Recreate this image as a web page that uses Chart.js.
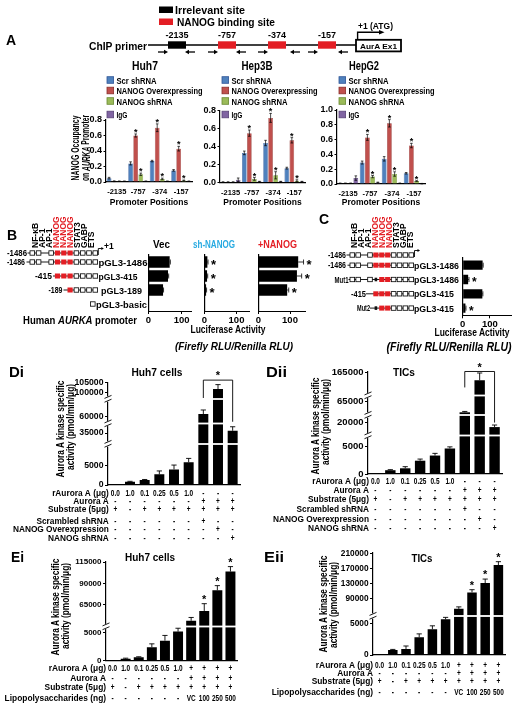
<!DOCTYPE html>
<html>
<head>
<meta charset="utf-8">
<title>NANOG / AURKA figure</title>
<script src="https://cdn.jsdelivr.net/npm/chart.js"></script>
<style>
  body { margin: 0; background: #fff; }
  #page { position: relative; width: 515px; height: 708px; overflow: hidden; background: #fff; }
  #page canvas { position: absolute; }
  #overlay { position: absolute; left: 0; top: 0; pointer-events: none; }
</style>
</head>
<body>
<div id="page"></div>
<script>
const F = "'Liberation Sans', Arial, Helvetica, sans-serif";
const RED = '#e31e24';
const CYAN = '#27aae1';

// ---------- A: ChIP occupancy ----------
const promoterPos = ['-2135', '-757', '-374', '-157'];
const occSeries = ['Scr shRNA', 'NANOG Overexpressing', 'NANOG shRNA', 'IgG'];
const occColors = ['#4f81bd', '#c0504d', '#9bbb59', '#8064a2'];
const occBorders = ['#2f5597', '#8b2f2c', '#6a8a33', '#5a4578'];
// rows: Scr shRNA, NANOG Overexpressing, NANOG shRNA, IgG
const huh7Occ  = [[0.05, 0.24, 0.27, 0.15], [0.01, 0.60, 0.70, 0.43], [0.01, 0.10, 0.04, 0.02], [0.01, 0.01, 0.01, 0.01]];
const huh7Err  = [[0.01, 0.02, 0.01, 0.01], [0.005, 0.02, 0.05, 0.03], [0.003, 0.015, 0.01, 0.005], [0.003, 0.003, 0.003, 0.003]];
const hep3bOcc = [[0.005, 0.33, 0.44, 0.16], [0.005, 0.55, 0.72, 0.47], [0.005, 0.04, 0.08, 0.02], [0.03, 0.01, 0.01, 0.01]];
const hep3bErr = [[0.002, 0.02, 0.03, 0.01], [0.002, 0.035, 0.05, 0.03], [0.002, 0.015, 0.04, 0.01], [0.02, 0.003, 0.003, 0.003]];
const hepg2Occ = [[0.01, 0.29, 0.34, 0.145], [0.01, 0.63, 0.82, 0.52], [0.01, 0.10, 0.135, 0.04], [0.08, 0.02, 0.01, 0.005]];
const hepg2Err = [[0.003, 0.02, 0.03, 0.01], [0.003, 0.04, 0.05, 0.03], [0.003, 0.015, 0.03, 0.005], [0.03, 0.005, 0.003, 0.003]];
const occStars = [[0, 0, 0, 0], [0, 1, 1, 1], [0, 1, 1, 1], [0, 0, 0, 0]];

// ---------- B / C: luciferase ----------
const constructsB = ['pGL3-1486', 'pGL3-415', 'pGL3-189', 'pGL3-basic'];
const lucVec = [64, 59, 44, 1];
const lucVecErr = [2, 2, 1.5, 0];
const lucSh = [9, 8, 5, 1];
const lucShErr = [2, 2, 1.5, 0];
const lucOver = [126, 122, 91, 1];
const lucOverErr = [17, 15, 5, 0];
const lucStars = [1, 1, 1, 0];
const constructsC = ['pGL3-1486', 'Mut1 pGL3-1486', 'pGL3-415', 'Mut2 pGL3-415'];
const lucMut = [73, 20, 72, 10];
const lucMutErr = [2, 3, 2, 2];
const mutStars = [0, 1, 0, 1];
const lucTicks = [0, 100];

// ---------- D / E: kinase activity ----------
const dRAurora   = ['0.0', '1.0', '0.1', '0.25', '0.5', '1.0', '-', '-', '-'];
const dAurora    = ['-', '-', '-', '-', '-', '-', '+', '+', '+'];
const dSubstrate = ['+', '-', '+', '+', '+', '+', '+', '+', '+'];
const dScrambled = ['-', '-', '-', '-', '-', '-', '+', '-', '-'];
const dOver      = ['-', '-', '-', '-', '-', '-', '-', '+', '-'];
const dShrna     = ['-', '-', '-', '-', '-', '-', '-', '-', '+'];
const eRAurora   = ['0.0', '1.0', '0.1', '0.25', '0.5', '1.0', '+', '+', '+', '+'];
const eAurora    = ['-', '-', '-', '-', '-', '-', '+', '+', '+', '+'];
const eSubstrate = ['+', '-', '+', '+', '+', '+', '+', '+', '+', '+'];
const eLps       = ['-', '-', '-', '-', '-', '-', 'VC', '100', '250', '500'];

const diKinase  = [0, 870, 1300, 2800, 4100, 6000, 61700, 101700, 36400];
const diErr     = [0, 100, 150, 900, 1150, 1000, 2400, 2300, 2500];
const diiKinase = [0, 700, 1050, 2450, 3400, 4700, 52000, 142000, 18500];
const diiErr    = [0, 100, 300, 300, 400, 300, 1000, 22000, 650];
const eiKinase  = [0, 350, 600, 2400, 3570, 5180, 46100, 57650, 81900, 103800];
const eiErr     = [0, 100, 100, 600, 930, 600, 3900, 8500, 5400, 5800];
const eiiKinase = [0, 800, 970, 2850, 4150, 5740, 63500, 106900, 131500, 179000];
const eiiErr    = [0, 100, 480, 550, 550, 320, 5200, 7100, 10500, 8800];
const eStars    = [0, 0, 0, 0, 0, 0, 0, 1, 1, 1];

const diTicks  = [0, 5000, 35000, 60000, 100000, 105000];
const diiTicks = [0, 5000, 20000, 65000, 165000];
const eiTicks  = [0, 5000, 65000, 90000, 115000];
const eiiTicks = [0, 5000, 90000, 130000, 170000, 210000];

// broken axis pieces: [fromValue, toValue, fromFraction, toFraction]
const SEGS = {
  di:  [[0, 10000, 0, 0.3715], [30000, 40000, 0.4301, 0.5865], [57000, 70000, 0.6158, 0.8309], [97000, 105000, 0.8504, 1]],
  dii: [[0, 7000, 0, 0.3725], [16000, 22000, 0.3824, 0.5686], [50000, 70000, 0.5882, 0.7549], [100000, 167000, 0.7843, 1]],
  ei:  [[0, 6000, 0, 0.3414], [40000, 115000, 0.3516, 1]],
  eii: [[0, 6200, 0, 0.3756], [46000, 212000, 0.3854, 1]]
};

// ---------- scale with breaks ----------
class BrokenScale extends Chart.LinearScale {
  getPixelForValue(value) {
    const segs = SEGS[this.chart.canvas.id];
    let dec = 0;
    for (const [v0, v1, f0, f1] of segs) {
      if (value <= v1) { dec = value <= v0 ? f0 : f0 + (value - v0) / (v1 - v0) * (f1 - f0); break; }
      dec = f1;
    }
    return this.getPixelForDecimal(dec);
  }
}
BrokenScale.id = 'broken';
BrokenScale.defaults = Chart.LinearScale.defaults;
Chart.register(BrokenScale);

Chart.defaults.font.family = F;
Chart.defaults.font.weight = 'bold';
Chart.defaults.color = '#000';

// ---------- annotations: error bars, stars, breaks, bracket, table ----------
const ANN = {};
const annot = {
  id: 'annot',
  afterDraw(chart) {
    const a = ANN[chart.canvas.id];
    if (!a) return;
    const ctx = chart.ctx, ca = chart.chartArea;
    const horiz = chart.options.indexAxis === 'y';
    const vs = horiz ? chart.scales.x : chart.scales.y;
    const seg = (x1, y1, x2, y2) => { ctx.beginPath(); ctx.moveTo(x1, y1); ctx.lineTo(x2, y2); ctx.stroke(); };
    const star = (x, y, align) => {
      ctx.font = `bold ${a.starSize}px ${F}`;
      ctx.textAlign = align; ctx.textBaseline = 'alphabetic'; ctx.fillStyle = '#000';
      ctx.fillText('*', x, y + a.starSize * 0.56);
    };
    ctx.save();
    if (a.breaks) {
      const segs = SEGS[chart.canvas.id];
      for (let k = 0; k < segs.length - 1; k++) {
        const y = vs.getPixelForDecimal((segs[k][3] + segs[k + 1][2]) / 2);
        ctx.fillStyle = '#fff';
        ctx.fillRect(ca.left + 1, y - 0.9, ca.width, 1.8);
        ctx.fillRect(ca.left - 3, y - 2.6, 6, 5.2);
        ctx.strokeStyle = '#000'; ctx.lineWidth = 0.9;
        seg(ca.left - 3.5, y - 0.6, ca.left + 3.5, y - 3.6);
        seg(ca.left - 3.5, y + 3.2, ca.left + 3.5, y + 0.2);
      }
    }
    ctx.strokeStyle = '#000'; ctx.lineWidth = a.errW;
    chart.data.datasets.forEach((ds, di) => {
      chart.getDatasetMeta(di).data.forEach((bar, i) => {
        const v = ds.data[i], e = ds.errors[i];
        const tip = vs.getPixelForValue(v + e);
        if (horiz) {
          if (e) { seg(bar.x, bar.y, tip, bar.y); seg(tip, bar.y - a.cap, tip, bar.y + a.cap); }
          if (ds.stars && ds.stars[i]) star(tip + a.starGap, bar.y, 'left');
        } else {
          const lo = a.sym ? vs.getPixelForValue(Math.max(v - e, 0)) : bar.y;
          if (e) {
            seg(bar.x, lo, bar.x, tip);
            seg(bar.x - a.cap, tip, bar.x + a.cap, tip);
            if (a.sym) seg(bar.x - a.cap, lo, bar.x + a.cap, lo);
          }
          if (ds.stars && ds.stars[i]) star(bar.x, tip - a.starGap, 'center');
        }
      });
    });
    if (a.bracket) {
      const b = a.bracket, ds = chart.data.datasets[0], m = chart.getDatasetMeta(0).data;
      const tipOf = i => vs.getPixelForValue(ds.data[i] + ds.errors[i]);
      let top = Infinity;
      for (let i = b.from; i <= b.to; i++) top = Math.min(top, tipOf(i));
      top -= b.gap;
      ctx.lineWidth = 0.9;
      ctx.beginPath();
      ctx.moveTo(m[b.from].x, tipOf(b.from) - b.legs[0]);
      ctx.lineTo(m[b.from].x, top);
      ctx.lineTo(m[b.to].x, top);
      ctx.lineTo(m[b.to].x, tipOf(b.to) - b.legs[1]);
      ctx.stroke();
      star((m[b.from].x + m[b.to].x) / 2, top - b.star, 'center');
    }
    if (a.table) {
      const xs = chart.scales.x, t = a.table;
      ctx.fillStyle = '#000'; ctx.textBaseline = 'middle';
      t.rows.forEach(([label, vals, dy]) => {
        const y = ca.bottom + dy;
        ctx.font = `bold ${t.size}px ${F}`;
        ctx.textAlign = 'right';
        ctx.fillText(label, xs.getPixelForValue(0) - t.gap, y);
        ctx.font = `bold ${t.valSize}px ${F}`;
        ctx.textAlign = 'center';
        vals.forEach((s, i) => {
          ctx.save();
          ctx.translate(xs.getPixelForValue(i), y);
          ctx.scale(t.squeeze, 1);
          ctx.fillText(s, 0, 0);
          ctx.restore();
        });
      });
    }
    ctx.restore();
  }
};

const page = document.getElementById('page');

// box = canvas [left, top, w, h]; area = plot [left, top, right, bottom] in page px
function makeChart(id, box, area, data, scales, extra = {}) {
  const cv = document.createElement('canvas');
  cv.id = id; cv.width = box[2]; cv.height = box[3];
  Object.assign(cv.style, { left: box[0] + 'px', top: box[1] + 'px', width: box[2] + 'px', height: box[3] + 'px' });
  page.appendChild(cv);
  scales.x.afterFit = s => { s.height = box[1] + box[3] - area[3]; };
  scales.y.afterFit = s => { s.width = area[0] - box[0]; };
  return new Chart(cv, {
    type: 'bar',
    data,
    options: {
      indexAxis: extra.indexAxis || 'x',
      responsive: false, animation: false, events: [],
      layout: { padding: { left: 0, top: area[1] - box[1], right: box[0] + box[2] - area[2], bottom: 0 } },
      plugins: { legend: { display: false }, tooltip: { enabled: false } },
      scales
    },
    plugins: [annot]
  });
}

// ----- A charts -----
function occDatasets(vals, errs) {
  return vals.map((d, k) => ({
    label: occSeries[k], data: d, errors: errs[k], stars: occStars[k],
    backgroundColor: occColors[k], borderColor: occBorders[k], borderWidth: 0.6,
    categoryPercentage: 0.95, barPercentage: 0.92
  }));
}
function occScales(max) {
  return {
    x: { type: 'category', offset: true, grid: { display: false, drawTicks: false },
         border: { display: true, color: '#000', width: 1.2 },
         ticks: { font: { size: 7.5, weight: 'bold' }, padding: 5.5, maxRotation: 0, autoSkip: false },
         title: { display: true, text: 'Promoter Positions', font: { size: 8.5, weight: 'bold' }, padding: { top: 0, bottom: 6 } } },
    y: { min: 0, max,
         grid: { display: true, drawOnChartArea: false, drawTicks: true, tickLength: 2.5, color: '#000' },
         border: { display: true, color: '#000', width: 1.2 },
         ticks: { stepSize: 0.2, font: { size: 9, weight: 'bold' }, padding: 1.5, callback: v => v.toFixed(1) } }
  };
}
const occAnn = { sym: true, cap: 1.3, errW: 0.7, starSize: 9, starGap: 4 };
ANN.huh7 = ANN.hep3b = ANN.hepg2 = occAnn;
makeChart('huh7', [86, 106, 110, 108], [106, 120, 192, 182], { labels: promoterPos, datasets: occDatasets(huh7Occ, huh7Err) }, occScales(0.8));
makeChart('hep3b', [200, 98, 112, 116], [220, 110.7, 305, 182.5], { labels: promoterPos, datasets: occDatasets(hep3bOcc, hep3bErr) }, occScales(0.8));
makeChart('hepg2', [317, 98, 115, 116], [337, 110, 425, 184], { labels: promoterPos, datasets: occDatasets(hepg2Occ, hepg2Err) }, occScales(1.0));

// ----- B / C charts -----
function lucScales(max) {
  return {
    x: { type: 'linear', min: 0, max,
         afterBuildTicks: s => { s.ticks = lucTicks.map(v => ({ value: v })); },
         grid: { display: true, drawOnChartArea: false, drawTicks: true, tickLength: 3, color: '#000' },
         border: { display: true, color: '#000', width: 1 },
         ticks: { font: { size: 9.5, weight: 'bold' }, padding: 0.5, maxRotation: 0 } },
    y: { type: 'category', grid: { display: false, drawTicks: false }, border: { display: true, color: '#000', width: 1.2 }, ticks: { display: false } }
  };
}
function lucData(labels, vals, errs, stars, pct) {
  return { labels, datasets: [{ data: vals, errors: errs, stars, backgroundColor: '#000', categoryPercentage: 1, barPercentage: pct }] };
}
ANN.vec = ANN.sh = ANN.over = { cap: 2.5, errW: 0.8, starSize: 13, starGap: 3 };
ANN.mut = { cap: 2.5, errW: 0.8, starSize: 12, starGap: 3 };
makeChart('vec', [138, 245, 58, 85], [148.5, 255, 191.5, 311], lucData(constructsB, lucVec, lucVecErr, null, 0.82), lucScales(130), { indexAxis: 'y' });
makeChart('sh', [194, 245, 72, 85], [204.5, 255, 249.3, 311], lucData(constructsB, lucSh, lucShErr, lucStars, 0.82), lucScales(140), { indexAxis: 'y' });
makeChart('over', [248, 245, 70, 85], [258.5, 255, 305.75, 311], lucData(constructsB, lucOver, lucOverErr, lucStars, 0.82), lucScales(150), { indexAxis: 'y' });
makeChart('mut', [452, 245, 63, 85], [462.7, 258, 511.8, 315.3], lucData(constructsC, lucMut, lucMutErr, mutStars, 0.65), lucScales(180), { indexAxis: 'y' });

// ----- D / E charts -----
function kinScales(ticks, max, size) {
  return {
    x: { type: 'category', grid: { display: false, drawTicks: false }, border: { display: true, color: '#000', width: 1.2 }, ticks: { display: false } },
    y: { type: 'broken', min: 0, max,
         afterBuildTicks: s => { s.ticks = ticks.map(v => ({ value: v })); },
         grid: { display: true, drawOnChartArea: false, drawTicks: true, tickLength: 3, color: '#000' },
         border: { display: true, color: '#000', width: 1.2 },
         ticks: { autoSkip: false, font: { size, weight: 'bold' }, padding: 1.5, callback: v => String(v) } }
  };
}
function kinData(labels, vals, errs, stars, pct) {
  return { labels, datasets: [{ data: vals, errors: errs, stars, backgroundColor: '#000', categoryPercentage: 1, barPercentage: pct }] };
}
const kinBase = { breaks: true, cap: 2.6, errW: 0.9, starSize: 11, starGap: 7 };
ANN.di = Object.assign({}, kinBase, {
  bracket: { from: 6, to: 8, gap: 4.5, legs: [12, 5], star: 7 },
  table: { size: 8.3, valSize: 9, gap: 6.5, squeeze: 0.72, rows: [['rAurora A (μg)', dRAurora, 8.3], ['Aurora A', dAurora, 16.7], ['Substrate (5μg)', dSubstrate, 25],
    ['Scrambled shRNA', dScrambled, 36.7], ['NANOG Overexpression', dOver, 44.3], ['NANOG shRNA', dShrna, 53.3]] }
});
ANN.dii = Object.assign({}, kinBase, {
  bracket: { from: 6, to: 8, gap: 1.5, legs: [24, 2.5], star: 7 },
  table: { size: 8.3, valSize: 9, gap: 6.5, squeeze: 0.72, rows: [['rAurora A (μg)', dRAurora, 7.7], ['Aurora A', dAurora, 16.7], ['Substrate (5μg)', dSubstrate, 26],
    ['Scrambled shRNA', dScrambled, 36], ['NANOG Overexpression', dOver, 45.3], ['NANOG shRNA', dShrna, 54.3]] }
});
ANN.ei = Object.assign({}, kinBase, {
  table: { size: 8.4, valSize: 9, gap: 6.5, squeeze: 0.72, rows: [['rAurora A (μg)', eRAurora, 7.6], ['Aurora A', eAurora, 17.6], ['Substrate (5μg)', eSubstrate, 27],
    ['Lipopolysaccharides (ng)', eLps, 37.6]] }
});
ANN.eii = Object.assign({}, kinBase, {
  table: { size: 8.4, valSize: 9, gap: 6.5, squeeze: 0.72, rows: [['rAurora A (μg)', eRAurora, 11], ['Aurora A', eAurora, 19], ['Substrate (5μg)', eSubstrate, 26.7],
    ['Lipopolysaccharides (ng)', eLps, 37.7]] }
});
makeChart('di', [0, 365, 245, 185], [108, 382.7, 240, 485], kinData(dRAurora, diKinase, diErr, null, 0.68), kinScales(diTicks, 105000, 8.7));
makeChart('dii', [258, 358, 257, 182], [368, 372, 502, 474], kinData(dRAurora, diiKinase, diiErr, null, 0.7), kinScales(diiTicks, 167000, 9.5));
makeChart('ei', [0, 550, 245, 158], [106, 562, 237, 660.7], kinData(eRAurora, eiKinase, eiErr, eStars, 0.76), kinScales(eiTicks, 115000, 8));
makeChart('eii', [262, 540, 253, 168], [373, 552.5, 505, 655], kinData(eRAurora, eiiKinase, eiiErr, eStars, 0.72), kinScales(eiiTicks, 212000, 8.3));

// ---------- drawn text and promoter diagrams ----------
const parts = [];
function T(x, y, s, size, anchor = 'start', o = {}) {
  let at = `font-size="${size}" text-anchor="${anchor}" dominant-baseline="central"`;
  if (o.w) at += ` textLength="${o.w}" lengthAdjust="spacingAndGlyphs"`;
  if (o.fill) at += ` fill="${o.fill}"`;
  if (o.italic) at += ` font-style="italic"`;
  const pos = o.rot ? `x="0" y="0" transform="translate(${x},${y}) rotate(-90)"` : `x="${x}" y="${y}"`;
  parts.push(`<text ${pos} ${at}>${s}</text>`);
}
const R = (x, y, w, h, fill, stroke, sw) =>
  parts.push(`<rect x="${x}" y="${y}" width="${w}" height="${h}" fill="${fill}"${stroke ? ` stroke="${stroke}" stroke-width="${sw}"` : ''}/>`);
const L = (x1, y1, x2, y2, sw = 1) =>
  parts.push(`<line x1="${x1}" y1="${y1}" x2="${x2}" y2="${y2}" stroke="#000" stroke-width="${sw}"/>`);
const P = (pts, fill = '#000') => parts.push(`<polygon points="${pts.map(p => p.join(',')).join(' ')}" fill="${fill}"/>`);

// panel A diagram
T(6, 40, 'A', 14);
R(159, 6.5, 14, 6.5, '#000'); T(175, 9.5, 'Irrelevant site', 11, 'start', { w: 70 });
R(159, 18.5, 14, 6.5, RED); T(177, 21.8, 'NANOG binding site', 11, 'start', { w: 98 });
T(358, 25.5, '+1 (ATG)', 9, 'start', { w: 35 });
T(147, 45.5, 'ChIP primer', 11, 'end', { w: 58 });
L(148, 45, 356, 45, 1.6);
[[168, '#000', '-2135'], [218, RED, '-757'], [268, RED, '-374'], [318, RED, '-157']].forEach(([x, c, s]) => {
  R(x, 41.3, 18, 7.4, c);
  T(x + 9, 35, s, 9, 'middle');
});
[158, 208, 258, 308].forEach(x => { L(x, 52, x + 7, 52, 1.3); P([[x + 6, 49.8], [x + 10, 52], [x + 6, 54.2]]); });
[185, 236, 290, 338].forEach(x => { L(x + 3, 52, x + 10, 52, 1.3); P([[x + 4, 49.8], [x, 52], [x + 4, 54.2]]); });
R(356, 39.8, 45, 11.6, '#fff', '#000', 1.8);
T(378.5, 46, 'AurA Ex1', 8, 'middle', { w: 37 });
parts.push('<path d="M357.6 39.8 V32.2 H380" fill="none" stroke="#000" stroke-width="1.4"/>');
P([[379, 30], [384.5, 32.2], [379, 34.4]]);

[[145, 'Huh7', 26, 107], [257, 'Hep3B', 31, 222], [364, 'HepG2', 30, 339]].forEach(([cx, name, w, lx]) => {
  T(cx, 66, name, 12, 'middle', { w });
  [80, 90.5, 101, 114.5].forEach((y, k) => {
    R(lx, y - 3.3, 6.6, 6.6, occColors[k], occBorders[k], 0.8);
    T(lx + 9.5, y + 0.3, occSeries[k], 9.5, 'start', { w: [40, 86, 56, 11][k] });
  });
});
T(75, 148, 'NANOG Occupancy', 10, 'middle', { rot: true, w: 65 });
T(85.5, 148, 'on <tspan font-style="italic">AURKA</tspan> Promoter', 10, 'middle', { rot: true, w: 66 });

// panels B and C diagrams
function construct(x0, p, y, pattern, lineFrom, w = 4.6, h = 4.4) {
  L(lineFrom, y, x0 + (pattern.length - 1) * p + w, y, 0.9);
  [...pattern].forEach((c, i) => {
    const x = x0 + i * p;
    if (c === 'w') R(x, y - h / 2, w, h, '#fff', '#000', 0.8);
    if (c === 'r') R(x - 0.3, y - h / 2 - 0.3, w + 0.6, h + 0.6, RED);
    if (c === 'k') R(x + 1, y - 1.8, w - 2, 3.6, '#111');
  });
}
function tss(x, y) {
  L(x, y + 2, x, y - 4.5, 0.9); L(x, y - 4.5, x + 3.5, y - 4.5, 0.9);
  P([[x + 3, y - 6], [x + 5.5, y - 4.5], [x + 3, y - 3]]);
}
T(7, 235, 'B', 14);
T(319, 219, 'C', 14);
const tfNames = ['NF-κB', 'AP-1', 'AP-1', 'NANOG', 'NANOG', 'NANOG', 'STAT3', 'GABP', 'ETS'];
tfNames.forEach((s, k) => {
  const fill = s === 'NANOG' ? RED : '#000';
  T(35 + 7 * k, 248, s, 8.5, 'start', { rot: true, fill });
  T(354 + 7 * k, 248, s, 8.5, 'start', { rot: true, fill });
});
T(27, 253, '-1486', 9, 'end', { w: 20 });
construct(30, 6.3, 253, 'ww.wrrrwwww', 27.5);
tss(98.3, 253); T(104, 245.5, '+1', 8.5);
T(25, 262, '-1486', 9, 'end', { w: 18 });
construct(30, 6.3, 262, 'ww.wrrrwwww', 26.5);
T(98.5, 262, constructsB[0], 9.5, 'start', { w: 49 });
T(52, 276, '-415', 8.5, 'end');
construct(30, 6.3, 276, '....rrrwwww', 53);
T(98.5, 276, constructsB[1], 9.5, 'start', { w: 39 });
T(62.5, 290, '-189', 8.5, 'end', { w: 14 });
construct(30, 6.3, 290, '......rwwww', 63.5);
T(101, 290, constructsB[2], 9.5, 'start', { w: 41 });
R(90.5, 301.8, 4.6, 4.4, '#fff', '#000', 0.8);
T(96, 304, constructsB[3], 9.5, 'start', { w: 51 });
T(23, 320, 'Human <tspan font-style="italic">AURKA</tspan> promoter', 10.5, 'start', { w: 114 });
T(161.5, 244, 'Vec', 10.5, 'middle', { w: 17 });
T(214, 244, 'sh-NANOG', 10.5, 'middle', { w: 42, fill: CYAN });
T(277.5, 244, '+NANOG', 10.5, 'middle', { w: 39, fill: RED });
T(228, 329, 'Luciferase Activity', 10, 'middle', { w: 75 });
T(234, 346, '(Firefly RLU/Renilla RLU)', 11.5, 'middle', { w: 118, italic: true });

T(346, 255, '-1486', 9, 'end', { w: 18 });
construct(350, 5.9, 255, 'ww.wrrrwwww', 346.5); tss(414.5, 255);
T(346, 265.2, '-1486', 9, 'end', { w: 18 });
construct(350, 5.9, 265.2, 'ww.wrrrwwww', 347.5);
T(414, 265.2, 'pGL3-1486', 9.5, 'start', { w: 45 });
T(348.5, 279.5, 'Mut1', 9, 'end', { w: 14 });
construct(350, 5.9, 279.5, 'ww.wkrrwwww', 348.5);
T(414, 279.5, 'pGL3-1486', 9.5, 'start', { w: 45 });
T(366, 293.8, '-415', 9, 'end', { w: 15 });
construct(350, 5.9, 293.8, '....rrrwwww', 366);
T(414, 293.8, 'pGL3-415', 9.5, 'start', { w: 40 });
T(370, 308.1, 'Mut2', 9, 'end', { w: 13 });
construct(350, 5.9, 308.1, '....krrwwww', 370);
T(414, 308.1, 'pGL3-415', 9.5, 'start', { w: 40 });
T(472, 332, 'Luciferase Activity', 10, 'middle', { w: 75 });
T(449, 347, '(Firefly RLU/Renilla RLU)', 12, 'middle', { w: 125, italic: true });

// panels D and E labels
T(9, 372, 'Di', 14, 'start', { w: 15 }); T(157, 372, 'Huh7 cells', 11.5, 'middle', { w: 51 });
T(266, 372, 'Dii', 14, 'start', { w: 21 }); T(404, 372, 'TICs', 11.5, 'middle', { w: 22 });
T(11, 557, 'Ei', 14, 'start', { w: 13 }); T(150, 557, 'Huh7 cells', 11.5, 'middle', { w: 50 });
T(264, 557, 'Eii', 14, 'start', { w: 20 }); T(422, 558, 'TICs', 11.5, 'middle', { w: 21 });
[[60, 70.5, 429, 427], [315, 325.5, 426, 422], [55, 65.5, 607, 606], [323, 333.5, 604, 605]].forEach(([x1, x2, c1, c2]) => {
  T(x1, c1, 'Aurora A kinase specific', 10, 'middle', { rot: true, w: 97 });
  T(x2, c2, 'activity (pmol/min/μg)', 10, 'middle', { rot: true, w: 86 });
});

page.insertAdjacentHTML('beforeend',
  `<svg id="overlay" width="515" height="708" viewBox="0 0 515 708" font-family="${F.replace(/"/g, '')}" font-weight="bold">${parts.join('')}</svg>`);
</script>
</body>
</html>
